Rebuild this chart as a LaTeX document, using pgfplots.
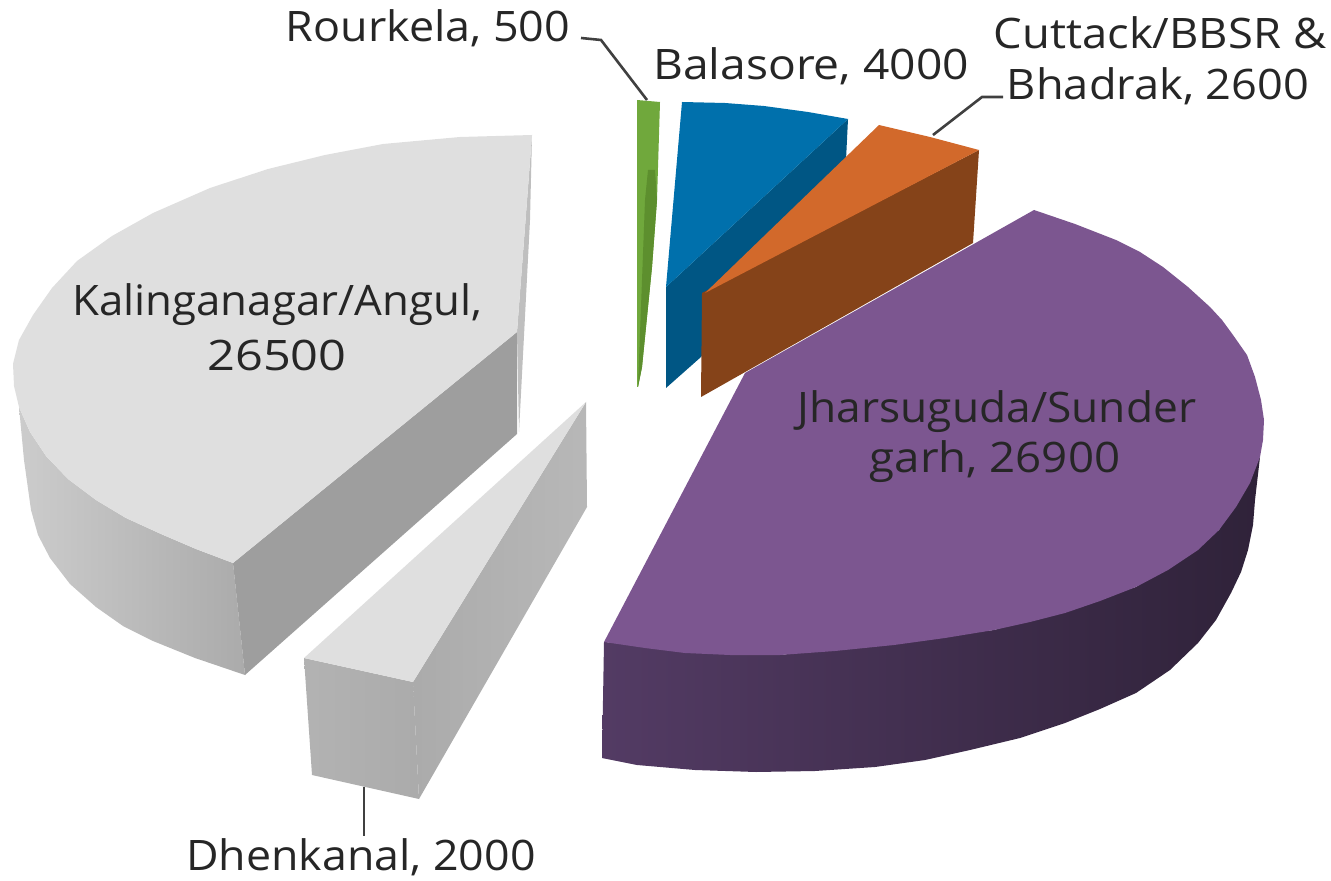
\documentclass[border=0pt]{standalone}
\usepackage{fontspec}
\setmainfont{Open Sans}
\usepackage{pgfplots}
\pgfplotsset{compat=1.18}
\definecolor{txt}{HTML}{262626}
\definecolor{gtop}{HTML}{DFDFDF}
\definecolor{pur}{HTML}{7C5690}
\newcommand{\lab}[4]{\node[text=txt,inner sep=0pt,xscale=#3,font=\fontsize{21}{25}\selectfont] at (axis cs:#1,#2) {#4};}
\begin{document}
\begin{tikzpicture}
\begin{axis}[scale only axis,width=665.5pt,height=440.5pt,xmin=0,xmax=1331,ymin=0,ymax=881,y dir=reverse,axis lines=none,clip=false]
\addplot[draw=none,forget plot] coordinates {(0,0)(1331,881)};
% Kalinganagar/Angul
\addplot[draw=none,left color=black!20,right color=black!33,forget plot] coordinates {(19,407)(24,460)(31,510)(38,535)(50,558)(70,584)(96,607)(123,626)(153,641)(195,658)(245,675)(233,563)(196,549)(161,534)(126,518)(96,500)(68,479)(46,456)(30,432)} --cycle;
\addplot[draw=none,fill=black!38,forget plot] coordinates {(233,563)(245,675)(517,434)(517,332)} --cycle;
\addplot[draw=none,fill=black!25,forget plot] coordinates {(532,135)(530,220)(519,432)(517,332)} --cycle;
\addplot[draw=none,fill=gtop,forget plot] coordinates {(532,135)(460,137)(383,144)(325,155)(268,169)(210,188)(153,213)(112,236)(77,261)(52,288)(33,315)(19,340)(13,364)(14,386)(19,407)(30,432)(46,456)(68,479)(96,500)(126,518)(161,534)(196,549)(233,563)(517,332)} --cycle;
% Dhenkanal
\addplot[draw=none,left color=black!30,middle color=black!38,right color=black!33,forget plot] coordinates {(304,658)(312,775)(419,799)(413,682)} --cycle;
\addplot[draw=none,left color=black!33,right color=black!28,forget plot] coordinates {(413,682)(419,799)(587,507)(586,402)} --cycle;
\addplot[draw=none,fill=gtop,forget plot] coordinates {(586,402)(304,658)(413,682)} --cycle;
% Jharsuguda
\addplot[draw=none,left color={rgb,255:red,83;green,59;blue,100},middle color={rgb,255:red,54;green,39;blue,67},right color={rgb,255:red,47;green,34;blue,57},forget plot] coordinates {(604,642)(602,758)(637,765)(695,770)(756,772)(815,771)(875,767)(925,760)(970,750)(1020,738)(1065,723)(1100,709)(1136,693)(1170,670)(1198,643)(1216,620)(1231,593)(1241,572)(1248,550)(1253,525)(1255,500)(1260,457)(1219,530)(1136,587)(994,630)(780,655)} --cycle;
\addplot[draw=none,fill=pur,forget plot] coordinates {(1034,210)(1075,224)(1116,240)(1140,252)(1163,267)(1188,287)(1210,307)(1222,320)(1233,335)(1247,355)(1255,377)(1261,400)(1264,420)(1263,440)(1260,457)(1250,483)(1236,507)(1219,530)(1198,550)(1168,570)(1136,587)(1100,601)(1065,613)(1030,622)(994,630)(945,638)(894,645)(835,651)(780,655)(730,655)(685,653)(645,648)(604,642)(745,373)} --cycle;
% Rourkela
\addplot[draw=none,fill={rgb,255:red,112;green,168;blue,60},forget plot] coordinates {(637,100)(660,102)(657,200)(652,267)(642,367)(638,387)(637,387)} --cycle;
\addplot[draw=none,fill={rgb,255:red,93;green,143;blue,46},forget plot] coordinates {(648,170)(655,170)(657,200)(652,267)(642,367)(638,387)(645,200)} --cycle;
% Balasore
\addplot[draw=none,fill={rgb,255:red,0;green,86;blue,132},forget plot] coordinates {(848,119)(846,160)(701,357)(666,388)(666,287)} --cycle;
\addplot[draw=none,fill={rgb,255:red,0;green,112;blue,172},forget plot] coordinates {(682,102)(725,103)(764,106)(808,112)(848,119)(666,287)} --cycle;
% Cuttack / Bhadrak
\addplot[draw=none,fill={rgb,255:red,133;green,67;blue,25},forget plot] coordinates {(979,150)(973,243)(701,397)(702,293)} --cycle;
\addplot[draw=none,fill={rgb,255:red,210;green,105;blue,43},forget plot] coordinates {(879,125)(930,137)(979,150)(705,293)} --cycle;
% leader lines
\addplot[draw=black!75,line width=1.3pt,forget plot] coordinates {(581,38)(601,40)(647,100)};
\addplot[draw=black!75,line width=1.3pt,forget plot] coordinates {(1003,97)(982,97)(933,135)};
\addplot[draw=black!75,line width=1.3pt,forget plot] coordinates {(364,787)(364,836)};
% labels
\lab{428}{28}{1.068}{Rourkela, 500}
\lab{811}{66}{1.10}{Balasore, 4000}
\lab{1160}{33}{1.08}{Cuttack/BBSR \&}
\lab{1158}{86}{1.075}{Bhadrak, 2600}
\lab{277}{305}{1.043}{Kalinganagar/Angul,}
\lab{277}{355}{1.16}{26500}
\lab{997}{412}{1.055}{Jharsuguda/Sunder}
\lab{995}{462}{1.087}{garh, 26900}
\lab{361}{857}{1.064}{Dhenkanal, 2000}
\end{axis}
\end{tikzpicture}
\end{document}
